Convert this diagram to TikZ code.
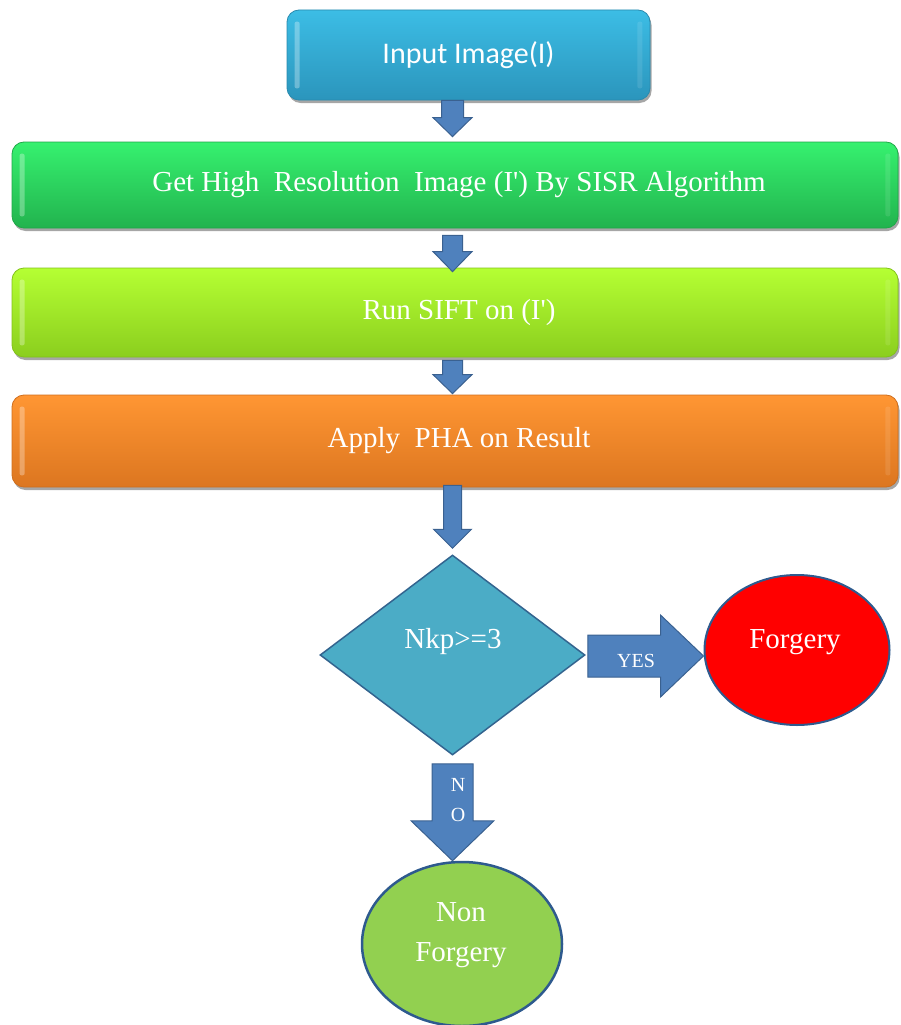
\documentclass[tikz,border=0pt]{standalone}
\usepackage{fontspec}
\setmainfont{Liberation Serif}
\newfontfamily\calfont{Carlito}
\usetikzlibrary{shapes.geometric,calc,shadows}
\definecolor{arrfill}{HTML}{4F81BD}
\definecolor{arrline}{HTML}{3A6190}
\definecolor{inTop}{HTML}{3CBDE5}
\definecolor{inBot}{HTML}{2B95BC}
\definecolor{inLine}{HTML}{2A8AAE}
\definecolor{grTop}{HTML}{36F16F}
\definecolor{grBot}{HTML}{22B34E}
\definecolor{grLine}{HTML}{1FA848}
\definecolor{liTop}{HTML}{B5FF33}
\definecolor{liBot}{HTML}{8BCE1E}
\definecolor{liLine}{HTML}{82C21B}
\definecolor{orTop}{HTML}{FF9633}
\definecolor{orBot}{HTML}{DC7620}
\definecolor{orLine}{HTML}{CF6E1D}
\definecolor{diaFill}{HTML}{4BACC6}
\definecolor{diaLine}{HTML}{33648F}
\definecolor{ellLine}{HTML}{2E5A8E}
\definecolor{nonFill}{HTML}{92D050}
\newcommand\blkdown[5]{% start, tip, shaft half, head half, head length
  \filldraw[barrow] ($(#1)+(-#3,0)$) -- ($(#1)+(#3,0)$) -- ($(#2)+(#3,-#5)$) -- ($(#2)+(#4,-#5)$) -- (#2) -- ($(#2)+(-#4,-#5)$) -- ($(#2)+(-#3,-#5)$) -- cycle;}
\newcommand\blkright[5]{%
  \filldraw[barrow] ($(#1)+(0,-#3)$) -- ($(#2)+(-#5,-#3)$) -- ($(#2)+(-#5,-#4)$) -- (#2) -- ($(#2)+(-#5,#4)$) -- ($(#2)+(-#5,#3)$) -- ($(#1)+(0,#3)$) -- cycle;}
\begin{document}
\begin{tikzpicture}[x=1pt,y=-1pt,
  procbox/.style={rectangle, rounded corners=12pt, minimum width=886pt, inner sep=0pt, line width=0.8pt,
    text=white, font=\fontsize{29}{33}\selectfont,
    drop shadow={shadow xshift=1.5pt, shadow yshift=-3pt, opacity=.35, fill=black}},
  barrow/.style={fill=arrfill, draw=arrline, line width=1pt, line join=miter},
  txt/.style={text=white, inner sep=0pt, font=\fontsize{29}{33}\selectfont},
  smalltxt/.style={text=white, inner sep=0pt, font=\fontsize{20}{22}\selectfont},
  gloss/.style={fill=white, opacity=.3, rounded corners=2pt}]
\useasboundingbox (0,0) rectangle (900,1025);

% process boxes
\node[procbox, minimum width=363pt, minimum height=90pt, top color=inTop, bottom color=inBot, draw=inLine,
  font=\calfont\fontsize{30}{34}\selectfont] (in) at (468.5,55) {Input Image(I)};
\node[procbox, minimum height=86pt, top color=grTop, bottom color=grBot, draw=grLine] (hr) at (455,185)
  {\hspace*{8pt}Get High~ Resolution~ Image (I\textquotesingle) By SISR Algorithm};
\node[procbox, minimum height=89pt, top color=liTop, bottom color=liBot, draw=liLine] (sift) at (455,312.5)
  {\hspace*{8pt}Run SIFT on (I\textquotesingle)};
\node[procbox, minimum height=92pt, top color=orTop, bottom color=orBot, draw=orLine] (pha) at (455,441)
  {\hspace*{8pt}Apply~ PHA on Result};

% glossy highlights
\foreach \b in {in,hr,sift,pha}{
  \fill[gloss] ($(\b.north west)+(8,12)$) rectangle ($(\b.south west)+(13,-12)$);
  \fill[gloss, opacity=.1] ($(\b.north east)+(-13,12)$) rectangle ($(\b.south east)+(-8,-12)$);
}

% decision and terminals
\node[diamond, minimum width=265pt, minimum height=200pt, inner sep=0pt, fill=diaFill, draw=diaLine,
  line width=1.5pt] (dec) at (452.5,655) {};
\node[txt] (dect) at (453,642) {Nkp>=3};
\node[ellipse, minimum width=185pt, minimum height=150pt, inner sep=0pt, fill=red, draw=ellLine,
  line width=2pt] (forg) at (797,650) {};
\node[txt] (forgt) at (795,642) {Forgery};
\node[ellipse, minimum width=200pt, minimum height=164pt, inner sep=0pt, fill=nonFill, draw=ellLine,
  line width=2.5pt] (non) at (462,944) {};
\node[txt, align=center, font=\fontsize{29}{40}\selectfont] (nont) at (461,935) {Non\\Forgery};

% block arrow end points
\coordinate (a1s) at (in.south -| dec.north);
\coordinate (a1t) at ($(hr.north -| dec.north)+(0,-5)$);
\coordinate (a2s) at ($(hr.south -| dec.north)+(0,7)$);
\coordinate (a2t) at ($(sift.north -| dec.north)+(0,4)$);
\coordinate (a3s) at ($(sift.south -| dec.north)+(0,3)$);
\coordinate (a3t) at ($(pha.north -| dec.north)+(0,-1)$);
\coordinate (a4s) at ($(pha.south -| dec.north)+(0,-2)$);
\coordinate (a4t) at ($(dec.north)+(0,-6)$);
\coordinate (ys) at ($(dec.east)+(2,1)$);
\coordinate (yt) at (forg.west |- ys);
\coordinate (ns) at ($(dec.south)+(0,8)$);
\coordinate (nt) at (non.north -| dec.south);

\blkdown{a1s}{a1t}{11}{19.5}{19}
\blkdown{a2s}{a2t}{10}{19.5}{20}
\blkdown{a3s}{a3t}{10}{19.5}{19}
\blkdown{a4s}{a4t}{9}{19}{19}
\blkright{ys}{yt}{21}{41}{43}
\blkdown{ns}{nt}{20.5}{41.5}{40}

\node[smalltxt] (yes) at (636,661) {YES};
\node[smalltxt] (no1) at (458,785) {N};
\node[smalltxt] (no2) at (458,815) {O};
\end{tikzpicture}
\end{document}
